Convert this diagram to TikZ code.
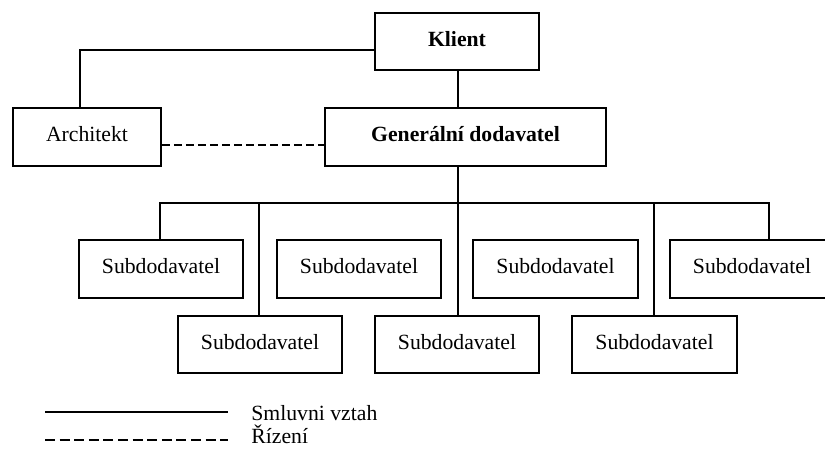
\documentclass[tikz,border=0pt]{standalone}
\usepackage{fontspec}
\setmainfont{Liberation Serif}
\begin{document}
\begin{tikzpicture}[x=0.5pt,y=-0.5pt,
  box/.style={draw, line width=0.8pt, rectangle, inner sep=0pt, minimum height=29pt, text depth=3pt, font=\fontsize{10.85}{13}\selectfont},
  conn/.style={line width=0.8pt},
  ctrl/.style={line width=0.8pt, dash pattern=on 4pt off 2pt}]
\useasboundingbox (0,0) rectangle (825,450);
\clip (0,0) rectangle (825,450);
% top
\node[box, minimum width=82pt, minimum height=28.5pt, font=\fontsize{10.85}{13}\selectfont\bfseries] (klient) at (457,41.5) {Klient};
\node[box, minimum width=74pt] (arch) at (87,137) {Architekt};
\node[box, minimum width=140.5pt, font=\fontsize{10.85}{13}\selectfont\bfseries] (gd) at (465.5,137) {Generální dodavatel};
% top row
\node[box, minimum width=82pt] (s1) at (161,269) {Subdodavatel};
\node[box, minimum width=82pt] (s2) at (359,269) {Subdodavatel};
\node[box, minimum width=82.5pt] (s3) at (555.5,269) {Subdodavatel};
\node[box, minimum width=82pt] (s4) at (752,269) {Subdodavatel};
% bottom row
\node[box, minimum width=82pt, minimum height=28.5pt] (s5) at (260,344.5) {Subdodavatel};
\node[box, minimum width=82pt, minimum height=28.5pt] (s6) at (457,344.5) {Subdodavatel};
\node[box, minimum width=82.5pt, minimum height=28.5pt] (s7) at (654.5,344.5) {Subdodavatel};
% connectors
\coordinate (busL) at (160,203);
\coordinate (busR) at (769,203);
\coordinate (busM) at (458,203);
\draw[conn] (klient.west |- 0,50) -| (arch.north -| 80,0);
\draw[conn] (klient.south -| busM) -- (gd.north -| busM);
\draw[conn] (gd.south -| busM) -- (busM);
\draw[conn] (s1.north -| busL) -- (busL) -- (busR) -- (s4.north -| busR);
\draw[conn] (259,203) -- (s5.north -| 259,0);
\draw[conn] (busM) -- (s6.north -| busM);
\draw[conn] (654,203) -- (s7.north -| 654,0);
\draw[ctrl] (arch.east |- 0,145) -- (gd.west |- 0,145);
% legend
\coordinate (l1a) at (45,412); \coordinate (l1b) at (228,412);
\coordinate (l2a) at (45,440); \coordinate (l2b) at (228,440);
\draw[conn] (l1a) -- (l1b);
\draw[line width=0.8pt, dash pattern=on 5pt off 2.3pt] (l2a) -- (l2b);
\node[anchor=base west, inner sep=0pt, font=\fontsize{10.85}{13}\selectfont] (t1) at (251,420) {Smluvni vztah};
\node[anchor=base west, inner sep=0pt, font=\fontsize{10.85}{13}\selectfont] (t2) at (251,443) {Řízení};
\end{tikzpicture}
\end{document}
